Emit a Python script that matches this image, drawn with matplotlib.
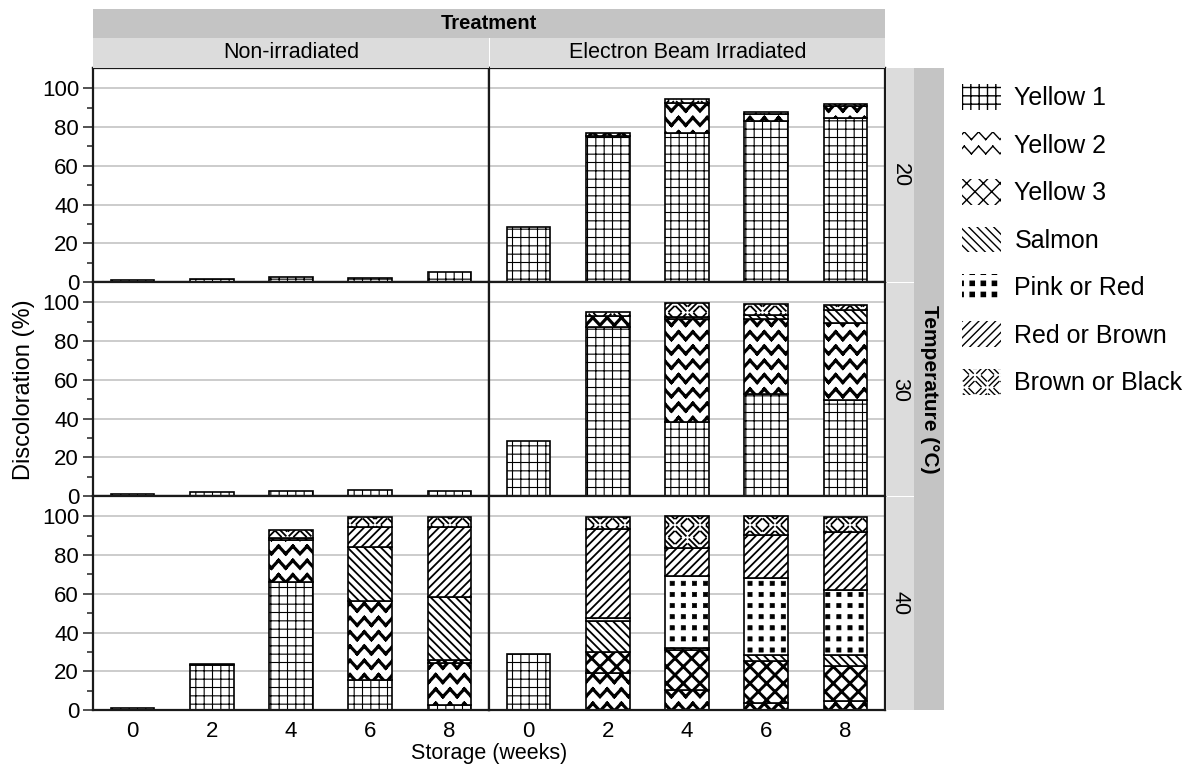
import warnings

import numpy as np
import matplotlib
matplotlib.use("Agg")
import matplotlib.pyplot as plt
import matplotlib.hatch as mhatch
from matplotlib.path import Path
from matplotlib.patches import Patch

warnings.filterwarnings("ignore", message="hatch must consist")
plt.rcParams['font.family'] = ['Liberation Sans', 'DejaVu Sans']

weeks = ["0", "2", "4", "6", "8"]
colour_classes = ["Yellow 1", "Yellow 2", "Yellow 3", "Salmon",
                  "Pink or Red", "Red or Brown", "Brown or Black"]
treatments = ["Non-irradiated", "Electron Beam Irradiated"]
temperatures = ["20", "30", "40"]

# discoloration (%) per colour class (rows) at each storage week (columns)
non_irr_20 = [[0.8, 1.7, 2.6, 1.9, 5.2],
              [0, 0, 0, 0, 0],
              [0, 0, 0, 0, 0],
              [0, 0, 0, 0, 0],
              [0, 0, 0, 0, 0],
              [0, 0, 0, 0, 0],
              [0, 0, 0, 0, 0]]
irr_20 = [[28.5, 75.5, 77.0, 83.0, 84.7],
          [0, 1.5, 15.5, 3.8, 6.0],
          [0, 0, 0, 0, 0],
          [0, 0, 0, 0, 0],
          [0, 0, 0, 0, 0],
          [0, 0, 0, 0, 0],
          [0, 0, 2.0, 0.9, 1.0]]
non_irr_30 = [[0.9, 2.2, 2.7, 3.0, 2.4],
              [0, 0, 0, 0, 0],
              [0, 0, 0, 0, 0],
              [0, 0, 0, 0, 0],
              [0, 0, 0, 0, 0],
              [0, 0, 0, 0, 0],
              [0, 0, 0, 0, 0]]
irr_30 = [[28.4, 87.1, 38.2, 52.6, 49.5],
          [0, 6.1, 53.1, 38.7, 39.7],
          [0, 0, 0, 0, 0],
          [0, 0, 1.0, 2.2, 6.6],
          [0, 0, 0, 0, 0],
          [0, 0, 0, 0, 0],
          [0, 2.0, 7.6, 5.7, 2.9]]
non_irr_40 = [[0.8, 23.0, 66.2, 15.7, 2.6],
              [0, 0.6, 21.6, 40.4, 21.9],
              [0, 0, 0, 0, 1.1],
              [0, 0, 1.2, 28.3, 33.0],
              [0, 0, 0, 0, 0],
              [0, 0, 0, 10.3, 35.9],
              [0, 0, 3.8, 4.8, 5.3]]
irr_40 = [[28.9, 0, 0, 0, 0],
          [0, 19.1, 10.5, 3.6, 4.5],
          [0, 10.6, 20.3, 21.5, 18.0],
          [0, 16.0, 1.0, 3.1, 5.7],
          [0, 1.8, 37.5, 39.9, 33.9],
          [0, 45.8, 14.3, 22.3, 30.0],
          [0, 6.2, 16.4, 9.6, 7.7]]

panels = [[non_irr_20, irr_20],
          [non_irr_30, irr_30],
          [non_irr_40, irr_40]]


class ZigZagHatch(mhatch.HatchPatternBase):
    # 'z': rows of zigzags; every stroke is its own segment so Agg won't fill it
    def __init__(self, hatch, density):
        self.n = hatch.count('z') * 7
        self.num_vertices = self.n * self.n * 4

    def set_vertices_and_codes(self, vertices, codes):
        n = self.n
        amp = 0.27 / n
        k = 0
        for i in range(n):
            yc = (i + 0.5) / n
            for j in range(n):
                x0 = j / n
                vertices[k:k + 4] = [(x0, yc - amp), (x0 + 0.5 / n, yc + amp),
                                     (x0 + 0.5 / n, yc + amp), (x0 + 1 / n, yc - amp)]
                codes[k:k + 4] = [Path.MOVETO, Path.LINETO, Path.MOVETO, Path.LINETO]
                k += 4


class WeaveHatch(mhatch.HatchPatternBase):
    # 'w': basket weave, blocks of three short diagonals flipping direction
    def __init__(self, hatch, density):
        self.n = hatch.count('w') * 8
        self.num_vertices = self.n * self.n * 6

    def set_vertices_and_codes(self, vertices, codes):
        n = self.n
        s = 1.0 / n
        base = [((0.14, 0.14), (0.86, 0.86)),
                ((0.08, 0.52), (0.48, 0.92)),
                ((0.52, 0.08), (0.92, 0.48))]
        k = 0
        for i in range(n):
            for j in range(n):
                x0, y0 = j * s, i * s
                for (ax_, ay_), (bx_, by_) in base:
                    if (i + j) % 2 == 1:
                        ay_, by_ = 1 - ay_, 1 - by_
                    vertices[k] = (x0 + ax_ * s, y0 + ay_ * s)
                    vertices[k + 1] = (x0 + bx_ * s, y0 + by_ * s)
                    codes[k:k + 2] = [Path.MOVETO, Path.LINETO]
                    k += 2


class SquareDotHatch(mhatch.HatchPatternBase):
    # 'q': filled square dots on a regular grid
    def __init__(self, hatch, density):
        self.n = hatch.count('q') * 9
        self.num_vertices = self.n * self.n * 5

    def set_vertices_and_codes(self, vertices, codes):
        n = self.n
        h = 0.021
        k = 0
        for i in range(n):
            for j in range(n):
                cx, cy = (j + 0.5) / n, (i + 0.5) / n
                vertices[k:k + 5] = [(cx - h, cy - h), (cx + h, cy - h),
                                     (cx + h, cy + h), (cx - h, cy + h), (cx - h, cy - h)]
                codes[k:k + 5] = [Path.MOVETO, Path.LINETO, Path.LINETO,
                                  Path.LINETO, Path.CLOSEPOLY]
                k += 5


mhatch._hatch_types.extend([ZigZagHatch, WeaveHatch, SquareDotHatch])

hatches = ['++', 'z', 'xx', '\\\\\\\\', 'q', '////', 'w']
hatch_lw = [0.8, 2.3, 2.1, 1.3, 0.5, 1.3, 1.3]

W, H = 1203, 770
fig = plt.figure(figsize=(W / 100, H / 100), dpi=100)


def px_box(x0, y0, x1, y1):
    return [x0 / W, 1 - y1 / H, (x1 - x0) / W, (y1 - y0) / H]


def strip(box, colour, text, size=15.5, **kw):
    sax = fig.add_axes(px_box(*box))
    sax.set_facecolor(colour)
    sax.set_xticks([])
    sax.set_yticks([])
    for s in sax.spines.values():
        s.set_visible(False)
    sax.text(0.5, 0.5, text, transform=sax.transAxes, ha='center', va='center',
             fontsize=size, **kw)


col_x = [93, 489, 885]
row_y = [68, 282, 496, 710]
x = np.arange(len(weeks))

for r in range(3):
    for c in range(2):
        ax = fig.add_axes(px_box(col_x[c], row_y[r], col_x[c + 1], row_y[r + 1]))
        data = np.array(panels[r][c], dtype=float)
        bottom = np.zeros(len(weeks))
        for k in range(len(colour_classes)):
            vals = data[k]
            m = vals > 0
            if m.any():
                bars = ax.bar(x[m], vals[m], 0.55, bottom=bottom[m], color='white',
                              edgecolor='black', linewidth=1.2, hatch=hatches[k], zorder=2)
                for p in bars:
                    if hasattr(p, 'set_hatch_linewidth'):
                        p.set_hatch_linewidth(hatch_lw[k])
            bottom += vals

        ax.set_xlim(-0.5, 4.5)
        ax.set_ylim(0, 110.5)
        ax.set_yticks(range(0, 101, 20))
        ax.set_yticks(range(10, 100, 20), minor=True)
        ax.yaxis.grid(True, color='#c8c8c8', linewidth=1.3)
        ax.set_axisbelow(True)
        for s in ax.spines.values():
            s.set_color('#1a1a1a')
            s.set_linewidth(1.6)
        if c == 0:
            ax.tick_params(axis='y', which='major', length=7, width=1.2,
                           labelsize=16, pad=3, color='#333333')
            ax.tick_params(axis='y', which='minor', length=4, width=1.2, color='#333333')
        else:
            ax.tick_params(axis='y', which='both', left=False, labelleft=False)
        if r == 2:
            ax.set_xticks(x)
            ax.set_xticklabels(weeks)
            ax.tick_params(axis='x', length=0, labelsize=16, pad=8)
        else:
            ax.set_xticks([])

# facet strips
strip((93, 9, 885, 38), '#c4c4c4', "Treatment", size=14.5, fontweight='bold')
strip((93, 38, 489, 68), '#dcdcdc', treatments[0])
strip((490, 38, 885, 68), '#dcdcdc', treatments[1])
for r in range(3):
    strip((886, row_y[r] + (1 if r else 0), 914, row_y[r + 1]), '#dcdcdc',
          temperatures[r], rotation=270)
strip((914, 68, 944, 710), '#c4c4c4', "Temperature (°C)", size=15, fontweight='bold',
      rotation=270)

fig.text(24 / W, 1 - 390 / H, "Discoloration (%)", rotation=90,
         ha='center', va='center', fontsize=17)
fig.text(489 / W, 1 - 753 / H, "Storage (weeks)", ha='center', va='center', fontsize=15.5)

handles = []
for k in range(len(colour_classes)):
    h = Patch(facecolor='white', edgecolor='black', linewidth=0, hatch=hatches[k])
    if hasattr(h, 'set_hatch_linewidth'):
        h.set_hatch_linewidth(hatch_lw[k])
    handles.append(h)
fig.legend(handles, colour_classes, loc='upper left', bbox_to_anchor=(962 / W, 1 - 84 / H),
           frameon=False, fontsize=18, handlelength=1.55, handleheight=1.2,
           labelspacing=0.85, handletextpad=0.55, borderaxespad=0, borderpad=0)

fig.savefig('out.png', dpi=100)
